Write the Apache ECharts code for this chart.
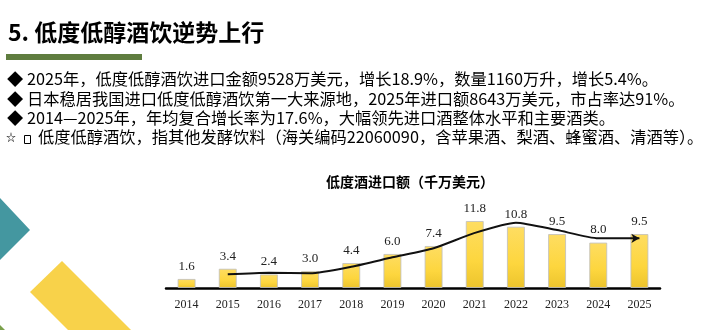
<!DOCTYPE html>
<html>
<head>
<meta charset="utf-8">
<style>
  html, body { margin: 0; padding: 0; background: #fff; }
  #chart { width: 714px; height: 330px; }
</style>
<script src="https://cdn.jsdelivr.net/npm/echarts@6/dist/echarts.min.js"></script>
</head>
<body>
<div id="chart"></div>
<script>
// Import value of low-alcohol drinks, 10 million USD
const years = ['2014', '2015', '2016', '2017', '2018', '2019', '2020', '2021', '2022', '2023', '2024', '2025'];
const importValue = [1.6, 3.4, 2.4, 3.0, 4.4, 6.0, 7.4, 11.8, 10.8, 9.5, 8.0, 9.5];
// Hand-drawn trend line over the bars (starts at 2015)
const trendLine = [null, 2.4, 2.7, 2.6, 3.75, 5.4, 7.0, 9.7, 11.5, 10.2, 8.75, 8.75];

const slideTitle = '5. 低度低醇酒饮逆势上行';
const bulletLines = [
  '◆ 2025年，低度低醇酒饮进口金额9528万美元，增长18.9%，数量1160万升，增长5.4%。',
  '◆ 日本稳居我国进口低度低醇酒饮第一大来源地，2025年进口额8643万美元，市占率达91%。',
  '◆ 2014—2025年，年均复合增长率为17.6%，大幅领先进口酒整体水平和主要酒类。'
];
const noteText = '低度低醇酒饮，指其他发酵饮料（海关编码22060090，含苹果酒、梨酒、蜂蜜酒、清酒等）。';
const chartTitle = '低度酒进口额（千万美元）';

const cjk = '"Noto Sans CJK SC", "Microsoft YaHei", sans-serif';
const numFont = '"Liberation Serif", "DejaVu Serif", serif';

const chart = echarts.init(document.getElementById('chart'), null, { renderer: 'canvas' });

const lineData = trendLine.map((v, i) => {
  if (i === trendLine.length - 1) {
    return { value: v, symbol: 'arrow', symbolSize: [7, 8], symbolRotate: -90 };
  }
  return v;
});

const bulletGraphics = bulletLines.map((t, i) => ({
  type: 'text',
  left: 7,
  top: 70.5 + i * 19.8,
  style: { text: t, font: '16.25px ' + cjk, fill: '#000' }
}));

chart.setOption({
  animation: false,
  grid: { left: 166, right: 54, top: 208.5, bottom: 42 },
  xAxis: {
    type: 'category',
    data: years,
    boundaryGap: true,
    axisLine: { lineStyle: { color: '#000', width: 2.5 } },
    axisTick: { show: false },
    axisLabel: { color: '#222', fontFamily: numFont, fontSize: 12, margin: 11 }
  },
  yAxis: {
    type: 'value',
    min: 0,
    max: 14,
    show: false,
    splitLine: { show: false }
  },
  series: [
    {
      type: 'bar',
      data: importValue,
      barWidth: 18,
      itemStyle: {
        color: new echarts.graphic.LinearGradient(0, 0, 0, 1, [
          { offset: 0, color: '#fedd62' },
          { offset: 0.6, color: '#fdd63e' },
          { offset: 1, color: '#ecc42d' }
        ]),
        borderColor: 'rgba(190,190,190,0.8)',
        borderWidth: 1
      },
      label: {
        show: true,
        position: 'top',
        distance: 6,
        color: '#222',
        fontFamily: numFont,
        fontSize: 13,
        formatter: p => p.value.toFixed(1)
      },
      z: 2
    },
    {
      type: 'line',
      data: lineData,
      smooth: 0.2,
      showSymbol: true,
      symbol: 'none',
      connectNulls: false,
      lineStyle: { color: '#111', width: 2 },
      itemStyle: { color: '#111' },
      z: 5,
      silent: true
    }
  ],
  graphic: [
    // slide heading and underline
    {
      type: 'text', left: 8, top: 21,
      style: { text: slideTitle, font: 'bold 23px ' + cjk, fill: '#000' }
    },
    {
      type: 'rect', shape: { x: 6, y: 54, width: 136, height: 6 },
      style: { fill: '#5f7d3f' }
    },
    ...bulletGraphics,
    {
      type: 'text', left: 6, top: 132,
      style: { text: '☆', font: '10px ' + cjk, fill: '#000' }
    },
    {
      type: 'rect', shape: { x: 24.5, y: 135.5, width: 6, height: 8 },
      style: { fill: 'none', stroke: '#000', lineWidth: 1 }
    },
    {
      type: 'text', left: 38, top: 129,
      style: { text: noteText, font: '16.25px ' + cjk, fill: '#000' }
    },
    // chart caption
    {
      type: 'text', x: 410, y: 182,
      style: { text: chartTitle, font: 'bold 14px ' + cjk, fill: '#000', align: 'center', verticalAlign: 'middle' }
    },
    // decorative corner shapes
    {
      type: 'polygon', shape: { points: [[0, 198], [30, 230], [0, 260]] },
      style: { fill: '#4497a0' }
    },
    {
      type: 'polygon', shape: { points: [[30, 292], [62, 261], [131, 330], [68, 330]] },
      style: { fill: '#f8d24a' }
    },
    {
      type: 'polygon', shape: { points: [[0, 325], [0, 330], [5, 330]] },
      style: { fill: '#7aa04a' }
    }
  ]
});
</script>
</body>
</html>
